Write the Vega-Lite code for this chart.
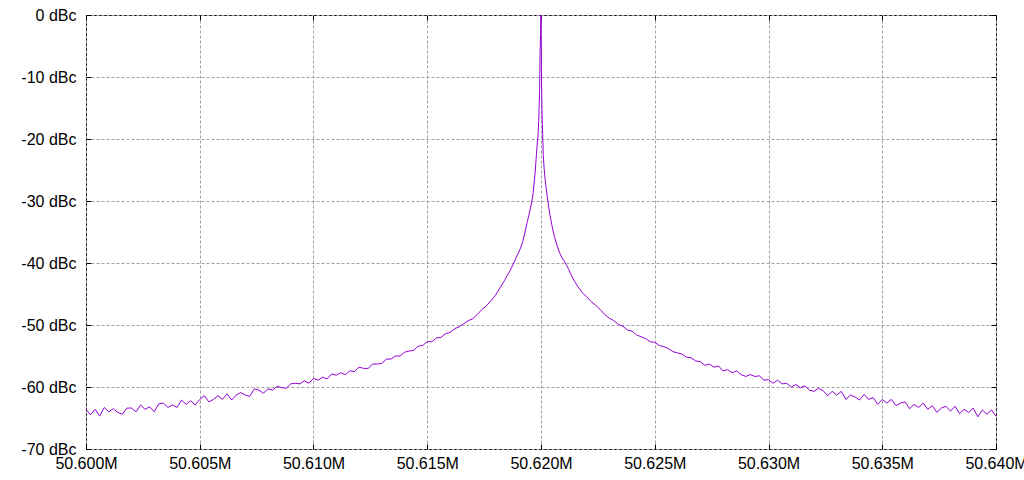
{
  "$schema": "https://vega.github.io/schema/vega-lite/v6.json",
  "width": 910,
  "height": 434,
  "autosize": {"type": "none"},
  "padding": {"left": 86, "top": 15, "right": 28, "bottom": 31},
  "background": "white",
  "config": {
    "view": {"stroke": "black", "strokeWidth": 1},
    "font": "Liberation Sans",
    "axis": {
      "labelFont": "Liberation Sans",
      "labelFontSize": 16,
      "labelColor": "black",
      "labelOverlap": false,
      "labelBound": false,
      "labelFlush": false,
      "domain": false,
      "gridColor": "#a0a0a0",
      "gridDash": [3, 2],
      "gridWidth": 1,
      "gridOpacity": 1,
      "ticks": true,
      "tickColor": "black",
      "tickSize": -5,
      "tickWidth": 1,
      "title": null
    }
  },
  "data": {"values": [
    {"f":50.6,"p":-63.6},{"f":50.6002,"p":-64.5},{"f":50.6004,"p":-63.6},{"f":50.6006,"p":-64.7},{"f":50.6008,"p":-63.3},
    {"f":50.601,"p":-64.0},{"f":50.6012,"p":-63.5},{"f":50.6014,"p":-64.1},{"f":50.6016,"p":-64.4},{"f":50.6018,"p":-63.4},
    {"f":50.602,"p":-63.4},{"f":50.6022,"p":-64.0},{"f":50.6024,"p":-62.9},{"f":50.6026,"p":-63.6},{"f":50.6028,"p":-63.2},
    {"f":50.603,"p":-64.0},{"f":50.6032,"p":-62.7},{"f":50.6034,"p":-62.6},{"f":50.6036,"p":-63.3},{"f":50.6038,"p":-62.9},
    {"f":50.604,"p":-63.3},{"f":50.6042,"p":-62.1},{"f":50.6044,"p":-62.8},{"f":50.6046,"p":-62.2},{"f":50.6048,"p":-62.9},
    {"f":50.605,"p":-62.0},{"f":50.6052,"p":-61.4},{"f":50.6054,"p":-62.4},{"f":50.6056,"p":-62.0},{"f":50.6058,"p":-61.4},
    {"f":50.606,"p":-62.0},{"f":50.6062,"p":-61.1},{"f":50.6064,"p":-62.1},{"f":50.6066,"p":-61.3},{"f":50.6068,"p":-60.9},
    {"f":50.607,"p":-61.3},{"f":50.6072,"p":-61.5},{"f":50.6074,"p":-60.3},{"f":50.6076,"p":-60.5},{"f":50.6078,"p":-61.0},
    {"f":50.608,"p":-60.3},{"f":50.6082,"p":-60.5},{"f":50.6084,"p":-59.9},{"f":50.6086,"p":-60.1},{"f":50.6088,"p":-60.2},
    {"f":50.609,"p":-59.5},{"f":50.6092,"p":-59.4},{"f":50.6094,"p":-59.5},{"f":50.6096,"p":-59.0},{"f":50.6098,"p":-59.4},
    {"f":50.61,"p":-58.6},{"f":50.6102,"p":-58.9},{"f":50.6104,"p":-58.4},{"f":50.6106,"p":-58.7},{"f":50.6108,"p":-57.9},
    {"f":50.611,"p":-58.1},{"f":50.6112,"p":-57.7},{"f":50.6114,"p":-58.0},{"f":50.6116,"p":-57.4},{"f":50.6118,"p":-57.5},
    {"f":50.612,"p":-56.8},{"f":50.6122,"p":-57.0},{"f":50.6124,"p":-57.0},{"f":50.6126,"p":-56.3},{"f":50.6128,"p":-56.3},
    {"f":50.613,"p":-56.2},{"f":50.6132,"p":-55.5},{"f":50.6134,"p":-55.5},{"f":50.6136,"p":-55.0},{"f":50.6138,"p":-55.0},
    {"f":50.614,"p":-54.4},{"f":50.6142,"p":-54.2},{"f":50.6144,"p":-54.1},{"f":50.6146,"p":-53.4},{"f":50.6148,"p":-53.3},
    {"f":50.615,"p":-52.7},{"f":50.6152,"p":-52.7},{"f":50.6154,"p":-52.1},{"f":50.6156,"p":-52.0},{"f":50.6158,"p":-51.4},
    {"f":50.616,"p":-51.2},{"f":50.6162,"p":-50.6},{"f":50.6164,"p":-50.3},{"f":50.6166,"p":-49.8},{"f":50.6168,"p":-49.3},
    {"f":50.617,"p":-49.0},{"f":50.6172,"p":-48.3},{"f":50.6174,"p":-47.5},{"f":50.6176,"p":-46.9},{"f":50.6178,"p":-46.1},
    {"f":50.618,"p":-45.2},
    {"f":50.6181,"p":-44.6},{"f":50.6182,"p":-44.0},{"f":50.6183,"p":-43.4},{"f":50.6184,"p":-42.8},{"f":50.6185,"p":-42.1},
    {"f":50.6186,"p":-41.5},{"f":50.6187,"p":-40.8},{"f":50.6188,"p":-40.0},{"f":50.6189,"p":-39.2},{"f":50.619,"p":-38.4},
    {"f":50.6191,"p":-37.6},{"f":50.6192,"p":-36.5},{"f":50.6193,"p":-35.0},{"f":50.6194,"p":-33.3},{"f":50.6195,"p":-31.8},
    {"f":50.6196,"p":-30.0},{"f":50.61965,"p":-28.8},{"f":50.6197,"p":-27.0},{"f":50.61975,"p":-25.0},{"f":50.6198,"p":-22.5},
    {"f":50.61984,"p":-20.5},{"f":50.61987,"p":-19.5},{"f":50.6199,"p":-17.0},{"f":50.61992,"p":-14.5},{"f":50.61994,"p":-12.0},
    {"f":50.61996,"p":-6.0},{"f":50.61998,"p":-3.0},{"f":50.62,"p":0.0},
    {"f":50.62002,"p":-9.0},{"f":50.62004,"p":-15.0},{"f":50.62006,"p":-17.5},{"f":50.62008,"p":-20.0},{"f":50.6201,"p":-22.7},
    {"f":50.62014,"p":-24.8},{"f":50.62018,"p":-26.5},{"f":50.62023,"p":-28.0},{"f":50.62028,"p":-29.4},{"f":50.62034,"p":-31.0},
    {"f":50.6204,"p":-32.4},{"f":50.6205,"p":-34.3},{"f":50.6206,"p":-35.9},{"f":50.6207,"p":-37.1},{"f":50.6208,"p":-38.2},
    {"f":50.6209,"p":-39.0},{"f":50.621,"p":-39.6},{"f":50.6211,"p":-40.2},{"f":50.6212,"p":-40.9},{"f":50.6213,"p":-41.7},
    {"f":50.6214,"p":-42.5},{"f":50.6215,"p":-43.1},{"f":50.6216,"p":-43.7},{"f":50.6217,"p":-44.2},{"f":50.6218,"p":-44.7},
    {"f":50.6219,"p":-45.1},
    {"f":50.622,"p":-45.4},{"f":50.6222,"p":-46.2},{"f":50.6224,"p":-46.8},{"f":50.6226,"p":-47.5},{"f":50.6228,"p":-48.3},
    {"f":50.623,"p":-48.9},{"f":50.6232,"p":-49.3},{"f":50.6234,"p":-49.9},{"f":50.6236,"p":-50.2},{"f":50.6238,"p":-50.8},
    {"f":50.624,"p":-51.0},{"f":50.6242,"p":-51.6},{"f":50.6244,"p":-51.9},{"f":50.6246,"p":-52.2},{"f":50.6248,"p":-52.7},
    {"f":50.625,"p":-52.8},{"f":50.6252,"p":-53.3},{"f":50.6254,"p":-53.5},{"f":50.6256,"p":-53.8},{"f":50.6258,"p":-54.3},
    {"f":50.626,"p":-54.5},{"f":50.6262,"p":-54.7},{"f":50.6264,"p":-55.2},{"f":50.6266,"p":-55.3},{"f":50.6268,"p":-55.8},
    {"f":50.627,"p":-55.9},{"f":50.6272,"p":-56.5},{"f":50.6274,"p":-56.3},{"f":50.6276,"p":-56.8},{"f":50.6278,"p":-56.6},
    {"f":50.628,"p":-57.4},{"f":50.6282,"p":-57.2},{"f":50.6284,"p":-57.7},{"f":50.6286,"p":-57.4},{"f":50.6288,"p":-58.0},
    {"f":50.629,"p":-58.3},{"f":50.6292,"p":-58.0},{"f":50.6294,"p":-58.3},{"f":50.6296,"p":-58.2},{"f":50.6298,"p":-58.9},
    {"f":50.63,"p":-58.8},{"f":50.6302,"p":-59.4},{"f":50.6304,"p":-58.9},{"f":50.6306,"p":-59.5},{"f":50.6308,"p":-59.4},
    {"f":50.631,"p":-60.0},{"f":50.6312,"p":-59.6},{"f":50.6314,"p":-60.1},{"f":50.6316,"p":-59.8},{"f":50.6318,"p":-60.5},
    {"f":50.632,"p":-60.7},{"f":50.6322,"p":-60.2},{"f":50.6324,"p":-60.6},{"f":50.6326,"p":-61.4},{"f":50.6328,"p":-60.7},
    {"f":50.633,"p":-61.3},{"f":50.6332,"p":-60.7},{"f":50.6334,"p":-62.0},{"f":50.6336,"p":-61.3},{"f":50.6338,"p":-61.6},
    {"f":50.634,"p":-62.1},{"f":50.6342,"p":-61.2},{"f":50.6344,"p":-62.0},{"f":50.6346,"p":-61.7},{"f":50.6348,"p":-62.8},
    {"f":50.635,"p":-62.0},{"f":50.6352,"p":-62.6},{"f":50.6354,"p":-62.0},{"f":50.6356,"p":-63.0},{"f":50.6358,"p":-62.6},
    {"f":50.636,"p":-62.4},{"f":50.6362,"p":-63.5},{"f":50.6364,"p":-62.8},{"f":50.6366,"p":-63.3},{"f":50.6368,"p":-62.6},
    {"f":50.637,"p":-63.6},{"f":50.6372,"p":-63.0},{"f":50.6374,"p":-64.1},{"f":50.6376,"p":-63.4},{"f":50.6378,"p":-63.1},
    {"f":50.638,"p":-63.9},{"f":50.6382,"p":-63.1},{"f":50.6384,"p":-64.3},{"f":50.6386,"p":-63.6},{"f":50.6388,"p":-64.1},
    {"f":50.639,"p":-63.4},{"f":50.6392,"p":-64.8},{"f":50.6394,"p":-63.7},{"f":50.6396,"p":-64.4},{"f":50.6398,"p":-63.7},
    {"f":50.64,"p":-64.7}
  ]},
  "resolve": {"axis": {"x": "independent", "y": "independent"}},
  "layer": [
    {
      "mark": {"type": "line", "color": "#9400d3", "strokeWidth": 1},
      "encoding": {
        "x": {"field": "f", "type": "quantitative",
          "scale": {"domain": [50.6, 50.64], "nice": false, "zero": false},
          "axis": {"orient": "bottom", "labelPadding": 11, "grid": true,
            "values": [50.6, 50.605, 50.61, 50.615, 50.62, 50.625, 50.63, 50.635, 50.64],
            "labelExpr": "format(datum.value, '.3f') + 'M'"}},
        "y": {"field": "p", "type": "quantitative",
          "scale": {"domain": [-70, 0], "nice": false, "zero": false},
          "axis": {"orient": "left", "labelPadding": 15, "grid": true,
            "values": [-70, -60, -50, -40, -30, -20, -10, 0],
            "labelExpr": "datum.value + ' dBc'"}}
      }
    },
    {
      "mark": {"type": "line", "color": "#9400d3", "strokeWidth": 1, "strokeOpacity": 0},
      "encoding": {
        "x": {"field": "f", "type": "quantitative",
          "scale": {"domain": [50.6, 50.64], "nice": false, "zero": false},
          "axis": {"orient": "top", "labels": false, "grid": false,
            "values": [50.6, 50.605, 50.61, 50.615, 50.62, 50.625, 50.63, 50.635, 50.64]}},
        "y": {"field": "p", "type": "quantitative",
          "scale": {"domain": [-70, 0], "nice": false, "zero": false},
          "axis": {"orient": "right", "labels": false, "grid": false,
            "values": [-70, -60, -50, -40, -30, -20, -10, 0]}}
      }
    }
  ]
}
